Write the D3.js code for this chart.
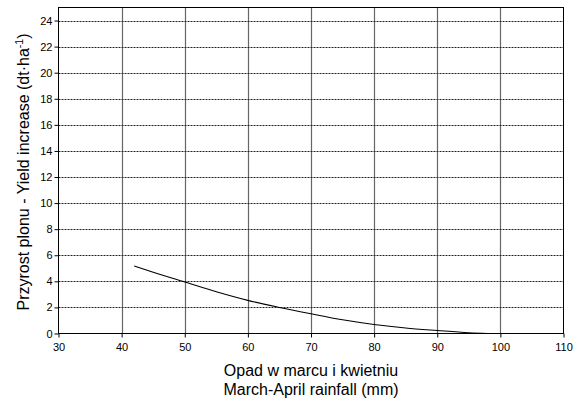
<!DOCTYPE html>
<html><head><meta charset="utf-8">
<script src="https://cdn.jsdelivr.net/npm/d3@7"></script>
<style>body{margin:0;background:#fff}svg{display:block;font-family:"Liberation Sans",Arial,sans-serif}</style>
</head><body><svg id="c" width="575" height="404"></svg>
<script>
const rainfall = [42, 45, 50, 55, 60, 65, 70, 75, 80, 85, 90, 95, 98];
const yieldInc = [5.18, 4.7, 3.95, 3.2, 2.54, 2.0, 1.51, 1.05, 0.69, 0.42, 0.23, 0.06, 0.0];
const xTicks = [30, 40, 50, 60, 70, 80, 90, 100, 110];
const yTicks = [0, 2, 4, 6, 8, 10, 12, 14, 16, 18, 20, 22, 24];

const svg = d3.select("#c");
const L = 58.5, R = 563.5, T = 7.5, B = 333.5;
const x = d3.scaleLinear().domain([30, 110]).range([L, R]);
const y = d3.scaleLinear().domain([0, 25]).range([B, T]);

// vertical grid
svg.append("g").selectAll("line").data(xTicks.slice(1, -1)).join("line")
  .attr("x1", d => Math.round(x(d)) + 0.5).attr("x2", d => Math.round(x(d)) + 0.5)
  .attr("y1", T).attr("y2", B).attr("stroke", "#666").attr("stroke-width", 1.2);
// horizontal grid
svg.append("g").selectAll("line").data(yTicks.slice(1)).join("line")
  .attr("x1", L).attr("x2", R)
  .attr("y1", d => Math.round(y(d)) + 0.5).attr("y2", d => Math.round(y(d)) + 0.5)
  .attr("stroke", "#222").attr("stroke-width", 1).attr("stroke-dasharray", "2,1");

// frame
svg.append("rect").attr("x", L).attr("y", T).attr("width", R - L).attr("height", B - T)
  .attr("fill", "none").attr("stroke", "#000").attr("stroke-width", 1);

// axes
const xa = svg.append("g").attr("transform", `translate(0,${B})`)
  .call(d3.axisBottom(x).tickValues(xTicks).tickSize(4).tickSizeOuter(0));
const ya = svg.append("g").attr("transform", `translate(${L},0)`)
  .call(d3.axisLeft(y).tickValues(yTicks).tickSize(4).tickSizeOuter(0));
[xa, ya].forEach(g => {
  g.select(".domain").remove();
  g.selectAll("text").attr("font-family", "Liberation Sans, Arial, sans-serif").attr("font-size", 11).attr("fill", "#000");
  g.selectAll("line").attr("stroke", "#000");
});
xa.selectAll("text").attr("dy", "0.95em");
ya.selectAll("text").attr("x", -6);

// curve
svg.append("path").datum(rainfall.map((d, i) => [d, yieldInc[i]]))
  .attr("d", d3.line().x(d => x(d[0])).y(d => y(d[1])).curve(d3.curveMonotoneX))
  .attr("fill", "none").attr("stroke", "#000").attr("stroke-width", 1.1);

// axis titles
svg.append("text").attr("x", 311).attr("y", 376).attr("text-anchor", "middle")
  .attr("font-size", 16).text("Opad w marcu i kwietniu");
svg.append("text").attr("x", 311).attr("y", 395).attr("text-anchor", "middle")
  .attr("font-size", 16).text("March-April rainfall (mm)");

const yt = svg.append("text").attr("transform", "translate(29,172) rotate(-90)")
  .attr("text-anchor", "middle").attr("font-size", 16);
yt.append("tspan").text("Przyrost plonu - Yield increase (dt·ha");
yt.append("tspan").attr("font-size", 10.5).attr("dy", -6).text("-1");
yt.append("tspan").attr("dy", 6).text(")");
</script></body></html>
